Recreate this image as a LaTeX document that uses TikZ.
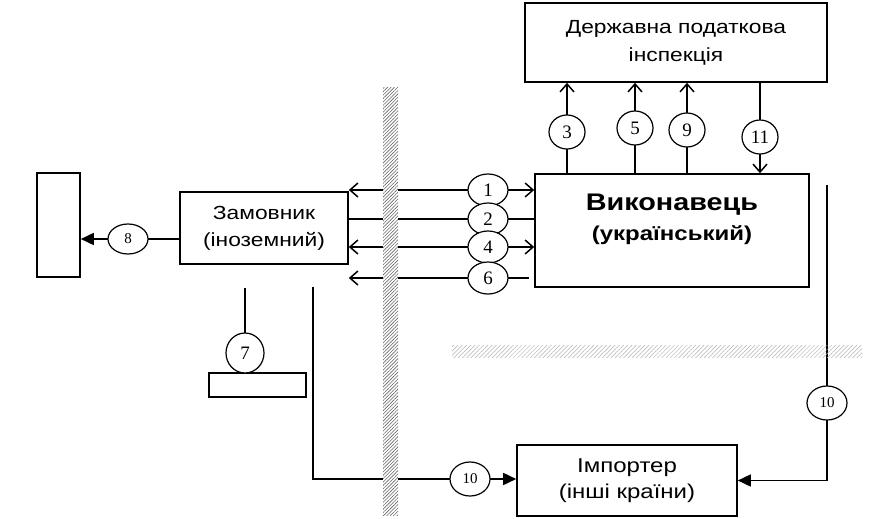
\documentclass[tikz,border=0pt]{standalone}
\usepackage{fontspec}
\setmainfont{Liberation Serif}
\newfontfamily\arialf{Liberation Sans}
\usetikzlibrary{arrows.meta,patterns.meta,shapes.geometric,calc}
\pgfdeclarelayer{bg}
\pgfsetlayers{bg,main}
\newcommand{\sx}[1]{\scalebox{1.2}[1]{#1}}
\begin{document}
\begin{tikzpicture}[x=1pt,y=-1pt,
  box/.style={draw,line width=1.6pt,inner sep=0pt,align=center,
    font=\arialf\fontsize{19}{28}\selectfont},
  num/.style={draw,ellipse,fill=white,line width=1.2pt,inner sep=0pt,
    minimum width=40pt,minimum height=32pt,font=\fontsize{19}{19}\selectfont},
  smallnum/.style={num,font=\fontsize{15}{15}\selectfont},
  conn/.style={line width=1.6pt},
  openarr/.style={conn,-{Straight Barb[length=8pt,width=14pt,line width=1.5pt]}},
  dblarr/.style={conn,{Straight Barb[length=8pt,width=14pt,line width=1.5pt]}-{Straight Barb[length=8pt,width=14pt,line width=1.5pt]}},
  filledarr/.style={conn,-{Triangle[length=13pt,width=12pt]}},
  hatch/.style={pattern={Lines[angle=45,distance=2.4pt,line width=0.6pt]},pattern color=black!60},
  lighthatch/.style={pattern={Lines[angle=45,distance=3pt,line width=0.5pt]},pattern color=black!30}
]
\useasboundingbox (0,0) rectangle (881,519);

% boxes
\node[box,minimum width=302pt,minimum height=79pt] (dpi) at (676,42.5)
  {\sx{Державна податкова}\\\sx{інспекція}};
\node[box,minimum width=274pt,minimum height=113pt] (vyk) at (672,230.5) {};
\node[align=center,inner sep=0pt,font=\arialf\bfseries\fontsize{24}{30}\selectfont] (vyktext) at (672,219)
  {\sx{Виконавець}\\{\fontsize{20}{30}\selectfont\sx{(український)}}};
\node[box,minimum width=168pt,minimum height=72pt,
  font=\arialf\fontsize{19}{27}\selectfont] (zam) at (264,228)
  {\sx{Замовник}\\\sx{(іноземний)}};
\node[box,minimum width=43pt,minimum height=104pt] (leftbox) at (58.5,225) {};
\node[box,minimum width=97pt,minimum height=24pt] (smallbox) at (257.5,385) {};
\node[box,minimum width=220pt,minimum height=71pt,
  font=\arialf\fontsize{20}{26}\selectfont] (imp) at (627,480.5)
  {\sx{Імпортер}\\\sx{(інші країни)}};

% circles
\node[num] (c1) at (488,190) {1};
\node[num] (c2) at (488,219) {2};
\node[num] (c4) at (488,247) {4};
\node[num] (c6) at (488,278) {6};
\node[num,minimum width=36pt,minimum height=34pt] (c3) at (567,132) {3};
\node[num,minimum width=36pt,minimum height=34pt] (c5) at (635,128) {5};
\node[num,minimum width=36pt,minimum height=34pt] (c9) at (687,130) {9};
\node[num,minimum width=36pt,minimum height=34pt] (c11) at (760,137) {11};
\node[smallnum,minimum width=40pt,minimum height=30pt] (c8) at (128,239) {8};
\node[num,minimum width=38pt,minimum height=40pt] (c7) at (245,353) {7};
\node[smallnum,minimum width=40pt,minimum height=34pt] (c10a) at (470,479) {10};
\node[smallnum,minimum width=40pt,minimum height=34pt] (c10b) at (827,403) {10};

\coordinate (s7) at (245,288);
\coordinate (s10a) at (313,287);
\coordinate (s10b) at (827,185);

% connectors
\begin{pgfonlayer}{bg}
\draw[dblarr] (c1 -| zam.east) -- (c1 -| vyk.west);
\draw[conn] (c2 -| zam.east) -- (c2 -| vyk.west);
\draw[dblarr] (c4 -| zam.east) -- (c4 -| vyk.west);
\draw[openarr,shorten <=5pt] (c6 -| vyk.west) -- (c6 -| zam.east);
\draw[openarr] (vyk.north -| c3) -- (dpi.south -| c3);
\draw[openarr] (vyk.north -| c5) -- (dpi.south -| c5);
\draw[openarr] (vyk.north -| c9) -- (dpi.south -| c9);
\draw[openarr] (dpi.south -| c11) -- (vyk.north -| c11);
\draw[filledarr] (zam.west |- c8) -- (leftbox.east |- c8);
\draw[conn,-{Triangle[length=10pt,width=10pt]}] (s7) -- (smallbox.north -| s7);
\draw[filledarr] (s10a) -- (s10a |- c10a) -- (imp.west |- c10a);
\draw[filledarr] (s10b) -- (s10b |- imp.east) -- (imp.east);
\end{pgfonlayer}

% hatched border strip and faint band
\fill[white] (383,88) rectangle (398,515);
\fill[hatch] (383,88) rectangle (398,515);
\fill[lighthatch] (452,345) rectangle (862,357);
\end{tikzpicture}
\end{document}
